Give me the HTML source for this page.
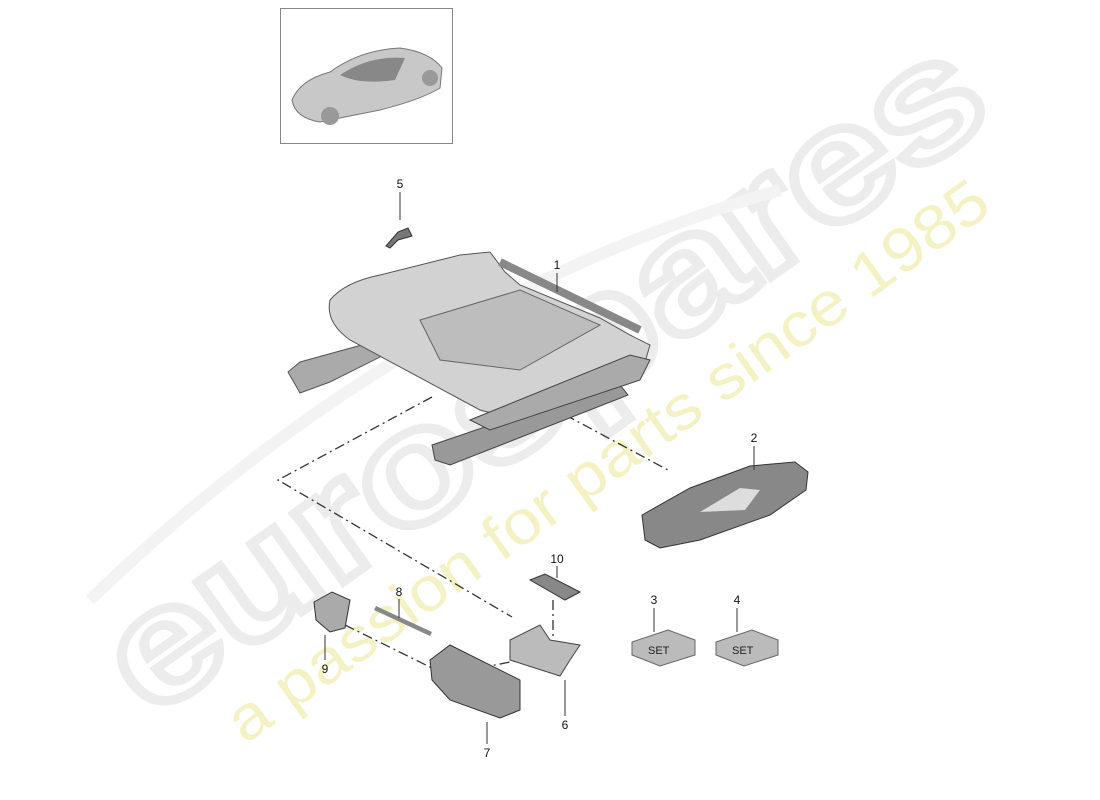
<!DOCTYPE html>
<html><head><meta charset="utf-8"><style>
html,body{margin:0;padding:0;background:#fff;width:1100px;height:800px;overflow:hidden}
svg{display:block}
text{font-family:"Liberation Sans",sans-serif}
</style></head><body>
<svg width="1100" height="800" viewBox="0 0 1100 800" xmlns="http://www.w3.org/2000/svg" overflow="hidden">
<!-- watermark -->
<text x="150" y="720" font-size="160" font-weight="bold" fill="none" stroke="#ececec" stroke-width="9" textLength="1040" lengthAdjust="spacingAndGlyphs" transform="rotate(-35.5 150 720)">eurospares</text>
<text x="245" y="745" font-size="62" fill="#f4f2c4" textLength="920" lengthAdjust="spacingAndGlyphs" transform="rotate(-35.5 245 745)">a passion for parts since 1985</text>
<path d="M90 600 Q400 300 780 190" fill="none" stroke="#f3f3f3" stroke-width="12"/>

<!-- car box -->
<rect x="280.5" y="8.5" width="172" height="135" fill="#fff" stroke="#888"/>
<path d="M292 100 Q300 80 330 72 Q360 50 400 48 Q430 52 442 68 L440 88 Q420 100 380 110 L320 122 Q295 118 292 100Z" fill="#c8c8c8" stroke="#777"/>
<circle cx="330" cy="116" r="9" fill="#999"/><circle cx="430" cy="78" r="8" fill="#999"/>
<path d="M340 75 Q370 55 405 58 L395 80 Q360 85 340 75Z" fill="#888"/>

<!-- dash-dot lines -->
<g stroke="#333" stroke-width="1.3" fill="none" stroke-dasharray="10,4,2,4">
<path d="M432 397 L278 480 L512 617"/>
<path d="M530 396 L668 470"/>
<path d="M345 625 L440 672"/>
<path d="M480 668 L520 660"/>
<path d="M553 600 L553 640"/>
</g>

<!-- seat frame -->
<path d="M288 372 L300 362 L380 340 L390 352 L330 382 L300 393Z" fill="#aaa" stroke="#555"/>
<path d="M432 445 L520 415 L620 385 L628 395 L450 465 L435 460Z" fill="#999" stroke="#444"/>
<path d="M330 300 Q345 282 380 275 L460 255 L490 252 L505 272 L520 285 L600 318 L630 335 L650 345 L645 362 L615 375 L560 400 L500 415 L480 410 L350 340 Q325 322 330 300Z" fill="#d2d2d2" stroke="#555"/>
<path d="M420 320 L520 290 L600 325 L520 370 L440 360Z" fill="#bdbdbd" stroke="#666"/>
<path d="M470 420 L630 355 L650 360 L640 380 L490 430Z" fill="#aaa" stroke="#444"/>
<path d="M500 262 L640 330" stroke="#888" stroke-width="8"/>

<!-- part 5 -->
<path d="M386 246 L398 232 L408 228 L412 236 L398 240 L390 248Z" fill="#777" stroke="#333"/>
<!-- part 2 -->
<path d="M642 515 L690 488 L750 466 L795 462 L808 472 L806 490 L770 515 L700 540 L660 548 L645 540Z" fill="#888" stroke="#333"/>
<path d="M700 512 L740 488 L760 490 L745 510 Z" fill="#ddd"/>
<!-- part 10 -->
<path d="M530 580 L545 574 L580 592 L565 600Z" fill="#888" stroke="#333"/>
<!-- part 6 -->
<path d="M510 640 L540 625 L550 640 L580 645 L570 660 L560 676 L510 660Z" fill="#bbb" stroke="#444"/>
<!-- part 7 -->
<path d="M430 660 L450 645 L520 680 L520 710 L500 718 L450 700 L432 680Z" fill="#999" stroke="#333"/>
<!-- part 8 -->
<path d="M376 606 L432 632 L430 636 L374 610Z" fill="#888"/>
<!-- part 9 -->
<path d="M314 602 L332 592 L350 600 L345 628 L330 632 L316 620Z" fill="#aaa" stroke="#333"/>
<!-- SET boxes -->
<path d="M632 642 L668 630 L695 640 L695 655 L660 666 L632 655Z" fill="#bbb" stroke="#666"/>
<text x="648" y="654" font-size="11" fill="#222">SET</text>
<path d="M716 642 L752 630 L778 640 L778 655 L744 666 L716 655Z" fill="#bbb" stroke="#666"/>
<text x="732" y="654" font-size="11" fill="#222">SET</text>

<!-- leader lines -->
<g stroke="#333" stroke-width="1">
<line x1="400" y1="192" x2="400" y2="220"/>
<line x1="557" y1="273" x2="557" y2="292"/>
<line x1="754" y1="446" x2="754" y2="470"/>
<line x1="557" y1="566" x2="557" y2="578"/>
<line x1="654" y1="608" x2="654" y2="632"/>
<line x1="737" y1="608" x2="737" y2="632"/>
<line x1="399" y1="599" x2="399" y2="618"/>
<line x1="325" y1="635" x2="325" y2="660"/>
<line x1="487" y1="722" x2="487" y2="744"/>
<line x1="565" y1="680" x2="565" y2="716"/>
</g>
<g font-size="12" fill="#111" text-anchor="middle">
<text x="400" y="188">5</text>
<text x="557" y="269">1</text>
<text x="754" y="442">2</text>
<text x="557" y="563">10</text>
<text x="654" y="604">3</text>
<text x="737" y="604">4</text>
<text x="399" y="596">8</text>
<text x="325" y="673">9</text>
<text x="487" y="757">7</text>
<text x="565" y="729">6</text>
</g>
</svg>
</body></html>
